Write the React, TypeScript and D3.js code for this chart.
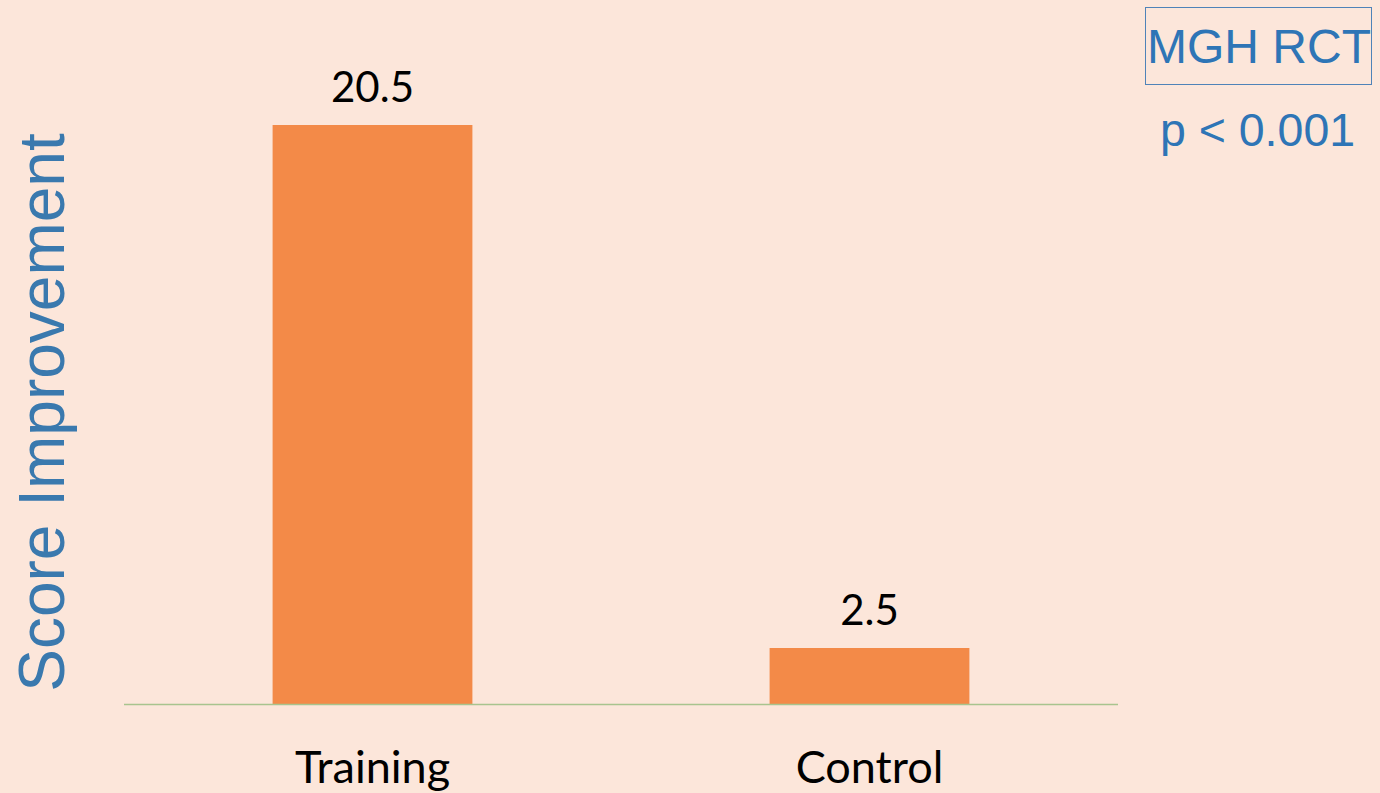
import React from "react";
import * as d3 from "d3";

const categories = ["Training", "Control"];
const values = [20.5, 2.5];
const valueLabels = ["20.5", "2.5"];
const yTitle = "Score Improvement";
const boxTitle = "MGH RCT";
const pText = "p < 0.001";

const W = 1380;
const H = 793;

export default function App() {
  const x = d3.scaleBand<string>().domain(categories).range([124, 1118]).paddingInner(0.598).paddingOuter(0.299);
  const y = d3.scaleLinear().domain([0.573, 20.5]).range([704, 125]);
  const bg = "#FCE6DA";
  const blue = "#2E75B6";
  return (
    <div style={{ position: "absolute", left: 0, top: 0, width: W, height: H, background: bg }}>
      <svg width={W} height={H} style={{ display: "block" }}>
        <rect x={0} y={0} width={W} height={H} fill={bg} />
        {categories.map((c, i) => (
          <g key={c}>
            <rect x={x(c)} y={y(values[i])} width={x.bandwidth()} height={y(0.573) - y(values[i])} fill="#F38A48" />
            <text x={(x(c) as number) + x.bandwidth() / 2} y={y(values[i]) - 23} textAnchor="middle" fontFamily="Lato, 'Open Sans', sans-serif" fontSize={42} fill="#000">
              {valueLabels[i]}
            </text>
            <text x={(x(c) as number) + x.bandwidth() / 2} y={783} textAnchor="middle" fontFamily="Lato, 'Open Sans', sans-serif" fontSize={45} fill="#000">
              {c}
            </text>
          </g>
        ))}
        <line x1={124} x2={1118} y1={704.5} y2={704.5} stroke="#A8C48E" strokeWidth={1.6} />
        <text transform="translate(64,412.5) rotate(-90)" textAnchor="middle" fontFamily="'Liberation Sans', Arial, sans-serif" fontSize={64} fill="#3A79AE">
          {yTitle}
        </text>
        <rect x={1145.5} y={7.5} width={226} height={77} fill="none" stroke="#4F83B8" strokeWidth={1} />
        <text x={1259} y={63} textAnchor="middle" fontFamily="'Liberation Sans', Arial, sans-serif" fontSize={48} fill={blue}>
          {boxTitle}
        </text>
        <text x={1257.5} y={146} textAnchor="middle" fontFamily="'Liberation Sans', Arial, sans-serif" fontSize={46.5} fill={blue}>
          {pText}
        </text>
      </svg>
    </div>
  );
}
